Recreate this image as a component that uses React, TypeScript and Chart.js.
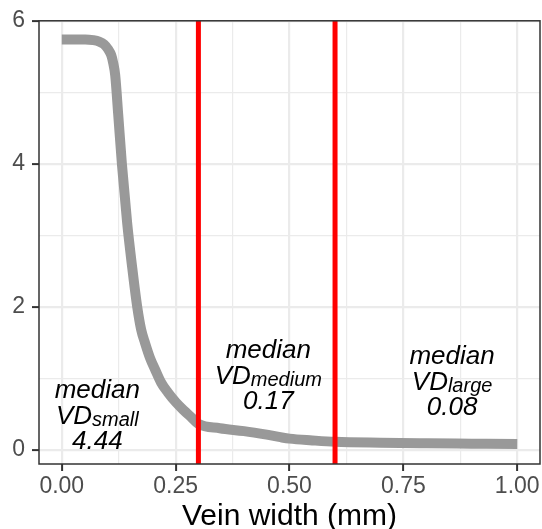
import React, { useEffect, useRef } from 'react';
import { Chart, registerables } from 'chart.js';

Chart.register(...registerables);

// ---- data ----
const veinWidth = [
  0.0, 0.0515, 0.069, 0.082, 0.093, 0.102, 0.1086, 0.1129, 0.1173, 0.1239, 0.132, 0.1436,
  0.1546, 0.1656, 0.1743, 0.183, 0.194, 0.205, 0.218, 0.233, 0.251, 0.268,
  0.284, 0.3, 0.347, 0.4, 0.45, 0.48, 0.5, 0.55, 0.6, 0.7, 0.8, 0.9, 1.0,
];
const vdValues = [
  5.74, 5.74, 5.73, 5.71, 5.67, 5.6, 5.52, 5.41, 5.24, 4.69, 4.0, 3.17,
  2.55, 2.0, 1.68, 1.49, 1.28, 1.12, 0.94, 0.8, 0.66, 0.55,
  0.455, 0.36, 0.3, 0.26, 0.21, 0.175, 0.155, 0.13, 0.11, 0.097, 0.09, 0.085, 0.08,
];
const thresholds = [0.3, 0.6];
const xMajorTicks = [0, 0.25, 0.5, 0.75, 1.0];
const xMinorTicks = [0.125, 0.375, 0.625, 0.875];
const yMajorTicks = [0, 2, 4, 6];
const yMinorTicks = [1, 3, 5];
const xLimits = [-0.05, 1.05];
const yLimits = [-0.2, 6.0];
const annoClass = ['small', 'medium', 'large'];
const annoMedian = ['4.44', '0.17', '0.08'];
const annoX = [0.078, 0.4535, 0.857];
const annoY = [0.36, 0.92, 0.84];

const FAMILY = "'Liberation Sans', Arial, sans-serif";
const TICK_FONT = { family: FAMILY, size: 23 };

function isMajor(list: number[], v: number) {
  return list.some((m) => Math.abs(m - v) < 1e-9);
}

const panelPlugin = {
  id: 'panelAndText',
  afterDatasetsDraw(chart: any) {
    const { ctx, chartArea, scales } = chart;
    const xs = scales.x;
    const ys = scales.y;
    ctx.save();
    // panel border
    ctx.strokeStyle = '#333333';
    ctx.lineWidth = 1.5;
    ctx.strokeRect(chartArea.left, chartArea.top, chartArea.right - chartArea.left, chartArea.bottom - chartArea.top);

    // annotations
    const mainFont = `italic 26px ${FAMILY}`;
    const subFont = `italic 20px ${FAMILY}`;
    const gap = 25.5;
    ctx.fillStyle = '#000000';
    ctx.textBaseline = 'alphabetic';
    annoX.forEach((ax, i) => {
      const cx = xs.getPixelForValue(ax);
      const by = ys.getPixelForValue(annoY[i]);
      ctx.save();
      ctx.translate(cx, by);
      ctx.textAlign = 'center';
      ctx.font = mainFont;
      ctx.fillText('median', 0, -gap);
      ctx.fillText(annoMedian[i], 0, gap);
      ctx.textAlign = 'left';
      const wVD = ctx.measureText('VD').width;
      ctx.font = subFont;
      const wSub = ctx.measureText(annoClass[i]).width;
      const start = -(wVD + wSub) / 2;
      ctx.font = mainFont;
      ctx.fillText('VD', start, 0);
      ctx.font = subFont;
      ctx.fillText(annoClass[i], start + wVD, 2);
      ctx.restore();
    });
    ctx.restore();
  },
};

export default function App() {
  const canvasRef = useRef<HTMLCanvasElement | null>(null);

  useEffect(() => {
    if (!canvasRef.current) return;
    const curve = veinWidth.map((x, i) => ({ x, y: vdValues[i] }));
    const redSets = thresholds.map((t) => ({
      label: 'threshold ' + t,
      data: [
        { x: t, y: yLimits[0] },
        { x: t, y: yLimits[1] },
      ],
      borderColor: '#FF0000',
      borderWidth: 5,
      pointRadius: 0,
      order: 1,
    }));

    const chart = new Chart(canvasRef.current, {
      type: 'line',
      data: {
        datasets: [
          {
            label: 'VD',
            data: curve,
            borderColor: '#999999',
            borderWidth: 10,
            pointRadius: 0,
            cubicInterpolationMode: 'monotone',
            borderJoinStyle: 'round',
            borderCapStyle: 'butt',
            order: 2,
          },
          ...redSets,
        ],
      },
      options: {
        animation: false,
        responsive: false,
        maintainAspectRatio: false,
        layout: { padding: { left: 0, right: 2, top: 15, bottom: 0 } },
        plugins: {
          legend: { display: false },
          tooltip: { enabled: false },
        },
        scales: {
          x: {
            type: 'linear',
            min: xLimits[0],
            max: xLimits[1],
            afterBuildTicks: (scale: any) => {
              scale.ticks = [...xMajorTicks, ...xMinorTicks].sort((a, b) => a - b).map((v) => ({ value: v }));
            },
            afterFit: (scale: any) => {
              scale.height = 65;
            },
            ticks: {
              autoSkip: false,
              maxRotation: 0,
              padding: 2,
              color: '#4D4D4D',
              font: TICK_FONT,
              callback: (v: any) => (isMajor(xMajorTicks, Number(v)) ? Number(v).toFixed(2) : ''),
            },
            grid: {
              color: '#EBEBEB',
              lineWidth: (c: any) => (c.tick && isMajor(xMajorTicks, c.tick.value) ? 2.2 : 1.2),
              tickColor: (c: any) => (c.tick && isMajor(xMajorTicks, c.tick.value) ? '#333333' : 'rgba(0,0,0,0)'),
              tickWidth: 2,
              tickLength: 7,
            },
            border: { display: false },
            title: {
              display: true,
              text: 'Vein width (mm)',
              color: '#000000',
              font: { family: FAMILY, size: 30, lineHeight: 1 },
              padding: { top: 0, bottom: -3 },
            },
          },
          y: {
            type: 'linear',
            min: yLimits[0],
            max: yLimits[1],
            afterBuildTicks: (scale: any) => {
              scale.ticks = [...yMajorTicks, ...yMinorTicks].sort((a, b) => a - b).map((v) => ({ value: v }));
            },
            afterFit: (scale: any) => {
              scale.width = 39;
            },
            ticks: {
              autoSkip: false,
              padding: 7,
              color: '#4D4D4D',
              font: TICK_FONT,
              callback: (v: any) => (isMajor(yMajorTicks, Number(v)) ? String(Number(v)) : ''),
            },
            grid: {
              color: '#EBEBEB',
              lineWidth: (c: any) => (c.tick && isMajor(yMajorTicks, c.tick.value) ? 2.2 : 1.2),
              tickColor: (c: any) => (c.tick && isMajor(yMajorTicks, c.tick.value) ? '#333333' : 'rgba(0,0,0,0)'),
              tickWidth: 2,
              tickLength: 7,
            },
            border: { display: false },
          },
        },
      },
      plugins: [panelPlugin],
    } as any);

    return () => chart.destroy();
  }, []);

  return (
    <div style={{ position: 'fixed', left: 0, top: 0, width: 542, height: 529, background: '#ffffff' }}>
      <canvas ref={canvasRef} width={542} height={529} style={{ display: 'block', width: 542, height: 529 }} />
    </div>
  );
}
